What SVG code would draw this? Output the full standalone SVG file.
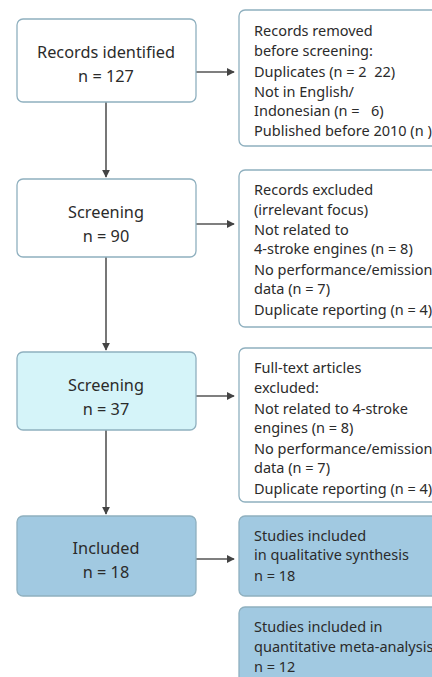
<svg xmlns="http://www.w3.org/2000/svg" width="432" height="677" viewBox="0 0 432 677">
<style>
.box{stroke:#8fb0bf;stroke-width:1.3}
.w{fill:#ffffff}
.c{fill:#d5f4f9}
.b{fill:#a1c9e1}
text{white-space:pre}
.lt{font-family:"Noto Sans","Liberation Sans",sans-serif;font-size:16.3px;fill:#2b2b2b;text-anchor:middle}
.rt{font-family:"Noto Sans","Liberation Sans",sans-serif;font-size:14.5px;fill:#2b2b2b}
.ln{stroke:#555555;stroke-width:1.6;fill:none}
</style>
<defs>
<marker id="ah" viewBox="0 0 10 10" refX="9" refY="5" markerWidth="5" markerHeight="5" orient="auto" markerUnits="strokeWidth">
<path d="M0,0 L10,5 L0,10 z" fill="#444444"/>
</marker>
</defs>
<rect width="432" height="677" fill="#ffffff"/>
<g id="connectors">
<line class="ln" x1="106" y1="102" x2="106" y2="177" marker-end="url(#ah)"/>
<line class="ln" x1="106" y1="257" x2="106" y2="350" marker-end="url(#ah)"/>
<line class="ln" x1="106" y1="430" x2="106" y2="514" marker-end="url(#ah)"/>
<line class="ln" x1="196" y1="72" x2="234" y2="72" marker-end="url(#ah)"/>
<line class="ln" x1="196" y1="224" x2="234" y2="224" marker-end="url(#ah)"/>
<line class="ln" x1="196" y1="396" x2="234" y2="396" marker-end="url(#ah)"/>
<line class="ln" x1="196" y1="559" x2="234" y2="559" marker-end="url(#ah)"/>
</g>
<g id="identified">
<rect class="box w" x="17" y="19" width="179" height="83" rx="6"/>
<text class="lt" x="106" y="58">Records identified</text>
<text class="lt" x="106" y="82">n = 127</text>
</g>
<g id="removed">
<rect class="box w" x="239" y="10" width="210" height="136" rx="6"/>
<text class="rt" x="254" y="36">Records removed</text>
<text class="rt" x="254" y="56">before screening:</text>
<text class="rt" x="254" y="77">Duplicates (n = 2  22)</text>
<text class="rt" x="254" y="97">Not in English/</text>
<text class="rt" x="254" y="116">Indonesian (n =   6)</text>
<text class="rt" x="254" y="136">Published before 2010 (n )</text>
</g>
<g id="screening1">
<rect class="box w" x="17" y="179" width="179" height="78" rx="6"/>
<text class="lt" x="106" y="218">Screening</text>
<text class="lt" x="106" y="242">n = 90</text>
</g>
<g id="excluded1">
<rect class="box w" x="239" y="170" width="210" height="157" rx="6"/>
<text class="rt" x="254" y="195">Records excluded</text>
<text class="rt" x="254" y="215">(irrelevant focus)</text>
<text class="rt" x="254" y="235">Not related to</text>
<text class="rt" x="254" y="254">4-stroke engines (n = 8)</text>
<text class="rt" x="254" y="275">No performance/emission</text>
<text class="rt" x="254" y="294">data (n = 7)</text>
<text class="rt" x="254" y="315">Duplicate reporting (n = 4)</text>
</g>
<g id="screening2">
<rect class="box c" x="17" y="352" width="179" height="78" rx="6"/>
<text class="lt" x="106" y="391">Screening</text>
<text class="lt" x="106" y="415">n = 37</text>
</g>
<g id="excluded2">
<rect class="box w" x="239" y="348" width="210" height="154" rx="6"/>
<text class="rt" x="254" y="373">Full-text articles</text>
<text class="rt" x="254" y="393">excluded:</text>
<text class="rt" x="254" y="414">Not related to 4-stroke</text>
<text class="rt" x="254" y="433">engines (n = 8)</text>
<text class="rt" x="254" y="454">No performance/emission</text>
<text class="rt" x="254" y="473">data (n = 7)</text>
<text class="rt" x="254" y="494">Duplicate reporting (n = 4)</text>
</g>
<g id="included">
<rect class="box b" x="17" y="516" width="179" height="80" rx="6"/>
<text class="lt" x="106" y="554">Included</text>
<text class="lt" x="106" y="578">n = 18</text>
</g>
<g id="qualitative">
<rect class="box b" x="239" y="516" width="210" height="80" rx="6"/>
<text class="rt" x="254" y="541">Studies included</text>
<text class="rt" x="254" y="560">in qualitative synthesis</text>
<text class="rt" x="254" y="581">n = 18</text>
</g>
<g id="quantitative">
<rect class="box b" x="239" y="607" width="210" height="90" rx="6"/>
<text class="rt" x="254" y="632">Studies included in</text>
<text class="rt" x="254" y="652">quantitative meta-analysis</text>
<text class="rt" x="254" y="672">n = 12</text>
</g>
</svg>
